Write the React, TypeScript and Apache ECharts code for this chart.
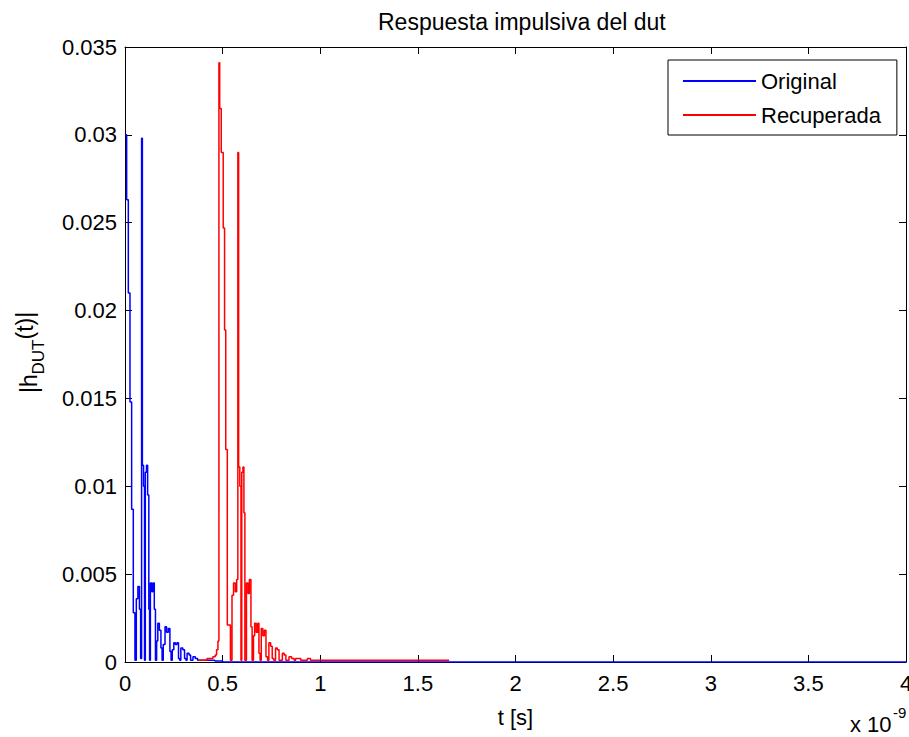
import React, { useEffect, useRef } from "react";
import * as echarts from "echarts";

// Time in units of 1e-9 s (axis shows "x 10^-9")
const blueT = [
  0, 0.0085, 0.017, 0.0255, 0.034, 0.0425, 0.051, 0.058, 0.066, 0.074, 0.08,
  0.085, 0.089, 0.095, 0.1, 0.104, 0.11, 0.116, 0.122, 0.126, 0.13, 0.137,
  0.143, 0.15, 0.156, 0.162, 0.168, 0.176, 0.184, 0.19, 0.196, 0.205, 0.213,
  0.222, 0.23, 0.236, 0.242, 0.25, 0.258, 0.266, 0.274, 0.28, 0.286, 0.296,
  0.305, 0.312, 0.318, 0.328, 0.336, 0.348, 0.36, 0.372, 0.4, 0.46, 0.5, 4.0,
];
const blueH = [
  0.03, 0.0263, 0.021, 0.0148, 0.0087, 0.0028, 0.0001, 0.0036, 0.0043, 0.003,
  0.0002, 0.0298, 0.0112, 0.01, 0.0001, 0.0108, 0.0112, 0.0095, 0.003, 0.0001,
  0.0045, 0.004, 0.0045, 0.003, 0.0001, 0.0012, 0.0022, 0.0018, 0.0008, 0.0001,
  0.001, 0.002, 0.0017, 0.0019, 0.0006, 0.0001, 0.0007, 0.0011, 0.001, 0.0011,
  0.0002, 0.0001, 0.0008, 0.0007, 0.0002, 0.0001, 0.0005, 0.0004, 0.0001,
  0.0003, 0.0002, 0.0001, 0.0001, 0.00005, 0, 0,
];

const redT = [
  0.376, 0.42, 0.45, 0.462, 0.469, 0.476, 0.481, 0.485, 0.493, 0.503, 0.51,
  0.516, 0.524, 0.54, 0.548, 0.556, 0.565, 0.572, 0.578, 0.582, 0.588, 0.594,
  0.598, 0.604, 0.609, 0.614, 0.622, 0.63, 0.637, 0.645, 0.651, 0.658, 0.664,
  0.672, 0.68, 0.686, 0.692, 0.698, 0.706, 0.714, 0.722, 0.73, 0.737, 0.746,
  0.754, 0.762, 0.771, 0.78, 0.789, 0.806, 0.815, 0.824, 0.84, 0.853, 0.866,
  0.874, 0.9, 0.934, 0.95, 1.05, 1.66,
];
const redH = [
  0.0001, 0.0002, 0.0003, 0.0004, 0.0007, 0.0012, 0.0341, 0.0315, 0.029,
  0.0247, 0.0189, 0.0121, 0.0021, 0.0001, 0.0038, 0.0045, 0.004, 0.0047,
  0.029, 0.0111, 0.01, 0.0001, 0.0108, 0.0111, 0.0085, 0.0001, 0.0045, 0.0039,
  0.0047, 0.002, 0.0001, 0.0015, 0.0022, 0.0017, 0.0022, 0.0005, 0.0001,
  0.0019, 0.0015, 0.0018, 0.0003, 0.0001, 0.0011, 0.0009, 0.0002, 0.0001,
  0.0008, 0.0007, 0.0001, 0.0005, 0.0004, 0.0001, 0.0003, 0.0002, 0.0001,
  0.0002, 0.0001, 0.0002, 0.0001, 0.0001, 0.0001,
];

const seriesNames = ["Original", "Recuperada"];
const titleText = "Respuesta impulsiva del dut";
const xName = "t [s]";

const FONT = "'Liberation Sans', Arial, sans-serif";

export default function App() {
  const ref = useRef<HTMLDivElement>(null);
  useEffect(() => {
    if (!ref.current) return;
    const chart = echarts.init(ref.current, undefined, { renderer: "svg" });
    const blueData = blueT.map((t, i) => [t, blueH[i]]);
    const redData = redT.map((t, i) => [t, redH[i]]);
    const axisCommon = {
      axisLine: { show: true, onZero: false, lineStyle: { color: "#000", width: 1 } },
      axisTick: { show: true, inside: true, length: 7, lineStyle: { color: "#000", width: 1 } },
      splitLine: { show: false },
    };
    chart.setOption({
      animation: false,
      backgroundColor: "#fff",
      title: {
        text: titleText,
        left: 373,
        top: 5,
        textStyle: { fontFamily: FONT, fontSize: 23, fontWeight: "normal", color: "#000" },
      },
      grid: {
        left: 125,
        right: 3,
        top: 47,
        bottom: 75,
        containLabel: false,
        outerBoundsMode: "none",
      },
      legend: {
        orient: "vertical",
        left: 668,
        top: 60,
        padding: [9, 16, 8, 15],
        itemGap: 10,
        itemWidth: 73,
        itemHeight: 2,
        icon: "rect",
        borderColor: "#000",
        borderWidth: 1,
        backgroundColor: "#fff",
        data: seriesNames,
        textStyle: { fontFamily: FONT, fontSize: 22, color: "#000", lineHeight: 24 },
      },
      xAxis: [
        {
          type: "value",
          min: 0,
          max: 4,
          interval: 0.5,
          position: "bottom",
          name: xName,
          nameLocation: "middle",
          nameGap: 44,
          nameTextStyle: { fontFamily: FONT, fontSize: 22, color: "#000" },
          axisLabel: { fontFamily: FONT, fontSize: 22, color: "#000", margin: 10 },
          ...axisCommon,
        },
        {
          type: "value",
          min: 0,
          max: 4,
          interval: 0.5,
          position: "top",
          axisLabel: { show: false },
          ...axisCommon,
        },
      ],
      yAxis: [
        {
          type: "value",
          min: 0,
          max: 0.035,
          interval: 0.005,
          position: "left",
          axisLabel: { fontFamily: FONT, fontSize: 22, color: "#000", margin: 8 },
          ...axisCommon,
        },
        {
          type: "value",
          min: 0,
          max: 0.035,
          interval: 0.005,
          position: "right",
          axisLabel: { show: false },
          ...axisCommon,
        },
      ],
      series: [
        {
          name: seriesNames[0],
          type: "line",
          step: "end",
          data: blueData,
          showSymbol: false,
          color: "#0000ff",
          lineStyle: { color: "#0000ff", width: 1.5 },
          xAxisIndex: 0,
          yAxisIndex: 0,
        },
        {
          name: seriesNames[1],
          type: "line",
          step: "end",
          data: redData,
          showSymbol: false,
          color: "#ff0000",
          lineStyle: { color: "#ff0000", width: 1.5 },
          xAxisIndex: 0,
          yAxisIndex: 0,
        },
      ],
      graphic: [
        {
          type: "group",
          x: 29,
          y: 393,
          rotation: Math.PI / 2,
          children: [
            {
              type: "text",
              x: 0,
              y: 0,
              style: { text: "|h", fontFamily: FONT, fontSize: 23, fill: "#000", textAlign: "left", textVerticalAlign: "middle" },
            },
            {
              type: "text",
              x: 18.5,
              y: 9,
              style: { text: "DUT", fontFamily: FONT, fontSize: 17, fill: "#000", textAlign: "left", textVerticalAlign: "middle" },
            },
            {
              type: "text",
              x: 53.5,
              y: -4,
              style: { text: "(t)|", fontFamily: FONT, fontSize: 23, fill: "#000", textAlign: "left", textVerticalAlign: "middle" },
            },
          ],
        },
        {
          type: "text",
          x: 850,
          y: 724,
          style: { text: "x 10", fontFamily: FONT, fontSize: 22, fill: "#000", textAlign: "left", textVerticalAlign: "middle" },
        },
        {
          type: "text",
          x: 893,
          y: 712,
          style: { text: "-9", fontFamily: FONT, fontSize: 15, fill: "#000", textAlign: "left", textVerticalAlign: "middle" },
        },
      ],
    });
    return () => chart.dispose();
  }, []);
  return (
    <div
      ref={ref}
      style={{ position: "fixed", left: 0, top: 0, width: 909, height: 737, background: "#fff" }}
    />
  );
}
